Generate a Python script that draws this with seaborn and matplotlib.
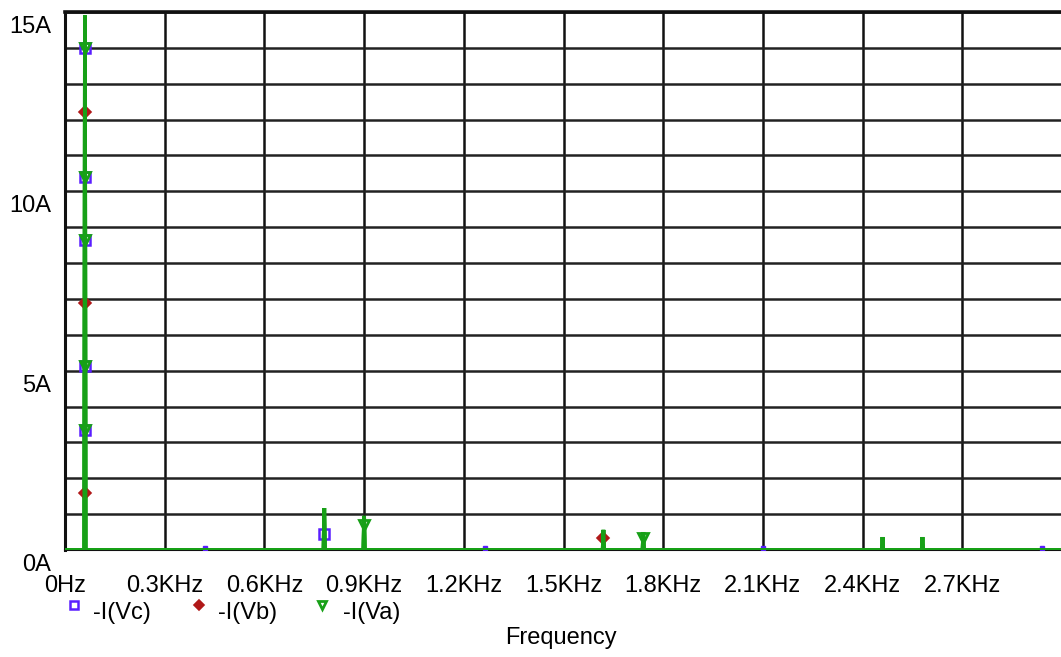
import numpy as np
import pandas as pd
import matplotlib
matplotlib.use("Agg")
import matplotlib.pyplot as plt
import seaborn as sns
from matplotlib.lines import Line2D
from matplotlib.ticker import MultipleLocator
from matplotlib.transforms import ScaledTranslation

# =========================
# DATA
# =========================
peak_freq_khz = [0.06, 0.78, 0.90, 1.62, 1.74, 2.46, 2.58]
peak_amp_a = [14.9, 1.17, 0.95, 0.56, 0.50, 0.36, 0.36]
freq_end_khz = 3.0

traces = ["-I(Vc)", "-I(Vb)", "-I(Va)"]

vc_mark_freq = [0.06, 0.06, 0.06, 0.06, 0.06, 0.78]
vc_mark_amp = [14.0, 10.4, 8.64, 5.13, 3.35, 0.45]
vc_base_freq = [0.42, 1.265, 2.10, 2.94]

vb_mark_freq = [0.06, 0.06, 0.06, 1.62]
vb_mark_amp = [12.2, 6.89, 1.59, 0.33]

va_mark_freq = [0.06, 0.06, 0.06, 0.06, 0.06, 0.90, 1.74]
va_mark_amp = [14.0, 10.4, 8.64, 5.13, 3.35, 0.70, 0.33]

x_ticks = [0.0, 0.3, 0.6, 0.9, 1.2, 1.5, 1.8, 2.1, 2.4, 2.7]
x_labels = ["0Hz", "0.3KHz", "0.6KHz", "0.9KHz", "1.2KHz", "1.5KHz",
            "1.8KHz", "2.1KHz", "2.4KHz", "2.7KHz"]
y_ticks = [0, 5, 10, 15]
y_labels = ["0A", "5A", "10A", "15A"]

# =========================
# STYLE
# =========================
sns.set_style("white")
plt.rcParams["font.family"] = ["Liberation Sans", "DejaVu Sans"]
plt.rcParams["text.color"] = "black"

BLUE = "#5a1eff"
RED = "#b01818"
GREEN = "#17a017"

# spike spectrum path, same for all three phases
half_w = 0.002
xs, ys = [0.0], [0.0]
for f, a in zip(peak_freq_khz, peak_amp_a):
    xs += [f - half_w, f, f + half_w]
    ys += [0.0, a, 0.0]
xs.append(freq_end_khz)
ys.append(0.0)

df = pd.concat([pd.DataFrame({"freq": xs, "amp": ys, "trace": t}) for t in traces],
               ignore_index=True)

fig = plt.figure(figsize=(10.61, 6.57), dpi=100)
ax = fig.add_axes([65 / 1061, 1 - 550 / 657, 997 / 1061, 538 / 657])

# =========================
# TRACES + MARKERS
# =========================
marks = {
    "-I(Vc)": (vc_mark_freq, vc_mark_amp, dict(marker="s", mfc="none", mec=BLUE, ms=7, mew=1.8)),
    "-I(Vb)": (vb_mark_freq, vb_mark_amp, dict(marker="D", mfc=RED, mec=RED, ms=6.2, mew=1.2)),
    "-I(Va)": (va_mark_freq, va_mark_amp, dict(marker="v", mfc="none", mec=GREEN, ms=7, mew=2)),
}

for i, t in enumerate(traces):
    sub = df[df["trace"] == t]
    sns.lineplot(data=sub, x="freq", y="amp", estimator=None, sort=False,
                 color=GREEN, lw=2.7, solid_capstyle="butt", solid_joinstyle="bevel",
                 ax=ax, zorder=5 + 2 * i)
    mf, ma, kw = marks[t]
    ax.plot(mf, ma, ls="none", zorder=6 + 2 * i, clip_on=False, **kw)
    if t == "-I(Vc)":
        ax.plot(vc_base_freq, [0.06] * len(vc_base_freq), ls="none", marker="s",
                ms=2.5, mfc=BLUE, mec=BLUE, zorder=6)

# =========================
# AXES / GRID
# =========================
ax.set_xlim(0, freq_end_khz)
ax.set_ylim(0, 15)
ax.set_xlabel("")
ax.set_ylabel("")

ax.set_xticks(x_ticks)
ax.set_xticklabels(x_labels)
ax.set_yticks(y_ticks)
ax.set_yticklabels(y_labels)
ax.yaxis.set_minor_locator(MultipleLocator(1))

ax.grid(axis="x", which="major", color="#111111", lw=1.8, zorder=1)
ax.grid(axis="y", which="both", color="#222222", lw=1.8, zorder=1)
ax.set_axisbelow(True)

ax.tick_params(axis="x", which="major", direction="out", length=10, width=2,
               labelsize=17, pad=8, color="#111111", labelcolor="black")
ax.tick_params(axis="y", which="major", direction="out", length=9, width=2,
               labelsize=17, pad=1, color="#111111", labelcolor="black")
ax.tick_params(axis="y", which="minor", length=0)

for lab in ax.get_yticklabels():
    lab.set_transform(lab.get_transform() + ScaledTranslation(0, -9 / 72, fig.dpi_scale_trans))

for side in ["left", "top", "bottom"]:
    ax.spines[side].set_color("#111111")
ax.spines["left"].set_linewidth(2.2)
ax.spines["top"].set_linewidth(2.6)
ax.spines["bottom"].set_linewidth(1.5)
ax.spines["right"].set_visible(False)

# =========================
# LEGEND + X TITLE
# =========================
W, H = 1061, 657
leg = [(74, 93, marks["-I(Vc)"][2]),
       (199, 218, marks["-I(Vb)"][2]),
       (322, 343, marks["-I(Va)"][2])]
for (mx, tx, kw), t in zip(leg, traces):
    kw2 = dict(kw)
    kw2["ms"] = kw2["ms"] - 1.5
    fig.add_artist(Line2D([mx / W], [1 - 605 / H], ls="none", transform=fig.transFigure, **kw2))
    fig.text(tx / W, 1 - 613 / H, t, fontsize=17, ha="left", va="center", color="black")

fig.text(561 / W, 1 - 638 / H, "Frequency", fontsize=17, ha="center", va="center", color="black")

fig.savefig("out.png", dpi=100)
